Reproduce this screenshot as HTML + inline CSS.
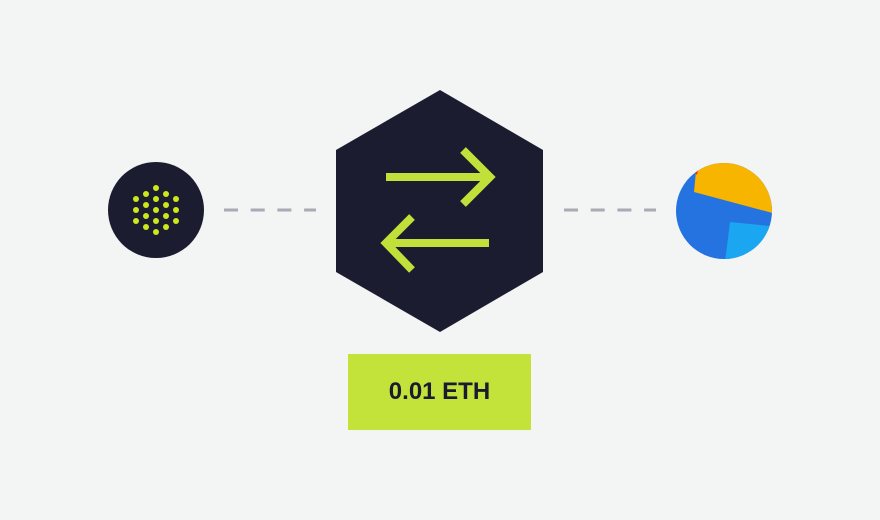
<!DOCTYPE html>
<html><head><meta charset="utf-8"><style>
html,body{margin:0;padding:0;background:#f3f4f4;}
.box{position:absolute;left:348px;top:354px;width:183px;height:76px;background:#c4e33a;display:flex;align-items:center;justify-content:center;font-family:"Liberation Sans",sans-serif;font-weight:bold;font-size:24px;color:#1b1b2f;}
</style></head><body>
<div style="position:relative;width:880px;height:520px;overflow:hidden">
<svg width="880" height="520" style="position:absolute;left:0;top:0">
<defs><clipPath id="c"><circle cx="724" cy="211" r="48"/></clipPath></defs>
<line x1="224" y1="210" x2="316" y2="210" stroke="#a9aab3" stroke-width="3" stroke-dasharray="14 12.7"/>
<line x1="564" y1="210" x2="656" y2="210" stroke="#a9aab3" stroke-width="3" stroke-dasharray="14 12.7"/>
<circle cx="156" cy="210" r="48" fill="#1b1c30"/>
<g fill="#cde81a">
<circle cx="156" cy="188" r="3"/><circle cx="156" cy="199" r="3"/><circle cx="156" cy="210" r="3"/><circle cx="156" cy="221" r="3"/><circle cx="156" cy="232" r="3"/>
<circle cx="146" cy="194" r="3"/><circle cx="146" cy="205" r="3"/><circle cx="146" cy="216" r="3"/><circle cx="146" cy="227" r="3"/>
<circle cx="166" cy="194" r="3"/><circle cx="166" cy="205" r="3"/><circle cx="166" cy="216" r="3"/><circle cx="166" cy="227" r="3"/>
<circle cx="136" cy="199" r="3"/><circle cx="136" cy="210" r="3"/><circle cx="136" cy="221" r="3"/>
<circle cx="176" cy="199" r="3"/><circle cx="176" cy="210" r="3"/><circle cx="176" cy="221" r="3"/>
</g>
<g clip-path="url(#c)">
<rect x="670" y="158" width="110" height="110" fill="#2473e0"/>
<polygon points="694,192 780,215 780,150 698,150" fill="#f7b500"/>
<polygon points="730,222 770,226 780,226 780,270 724,270" fill="#1aa6f0"/>
<polygon points="692,170 699,165 697,175" fill="#e8341c"/>
</g>
<polygon points="440,90 543,150 543,272 440,332 336,272 336,150" fill="#1b1c30"/>
<g stroke="#c2e03a" stroke-width="8" fill="none">
<line x1="386" y1="177" x2="488" y2="177"/>
<polyline points="463,150 490,177 463,204" stroke-linejoin="miter"/>
<line x1="386" y1="243" x2="489" y2="243"/>
<polyline points="412,217 386,243 412,270"/>
</g>
</svg>
<div class="box">0.01 ETH</div>
</div>
</body></html>
